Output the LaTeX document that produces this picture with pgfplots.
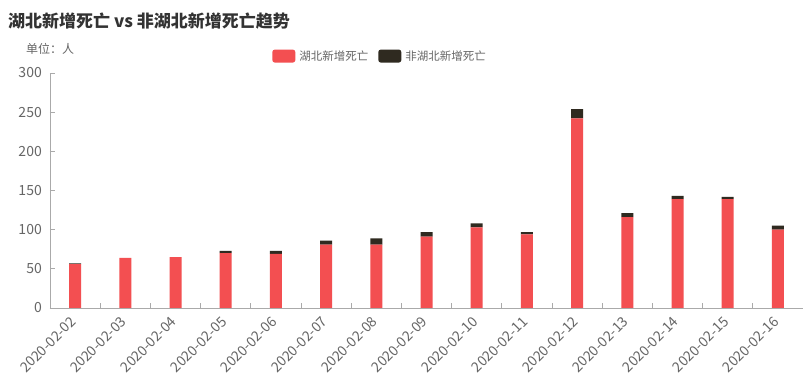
\documentclass[border=0pt]{standalone}
\usepackage{fontspec}
\setmainfont{Noto Sans CJK SC}
\usepackage{pgfplots}
\pgfplotsset{compat=1.18}
\definecolor{hb}{HTML}{F34F51}
\definecolor{nhb}{HTML}{2F2A20}
\definecolor{txt}{HTML}{666666}
\definecolor{ttl}{HTML}{333333}
\definecolor{axc}{HTML}{AAAAAA}
\begin{document}
\begin{tikzpicture}[x=1pt,y=1pt]
\path[use as bounding box, fill=white] (0,0) rectangle (808,390);
\node[anchor=west, font=\fontsize{17}{19}\selectfont\bfseries, text=ttl, inner sep=0pt] at (8,369) {湖北新增死亡 vs 非湖北新增死亡趋势};
\node[font=\fontsize{12}{14}\selectfont, text=txt, inner sep=0pt] at (50,341) {单位：人};
\begin{axis}[
  at={(50pt,82pt)}, anchor=south west,
  scale only axis, width=753pt, height=235pt,
  ybar stacked, bar width=12pt,
  xmin=-0.5, xmax=14.5, ymin=0, ymax=300,
  ytick={0,50,...,300},
  xtick={0.5,1.5,...,13.5}, xticklabels={},
  extra x ticks={0,...,14},
  extra x tick labels={2020-02-02,2020-02-03,2020-02-04,2020-02-05,2020-02-06,2020-02-07,2020-02-08,2020-02-09,2020-02-10,2020-02-11,2020-02-12,2020-02-13,2020-02-14,2020-02-15,2020-02-16},
  extra x tick style={major tick length=0pt, grid=none},
  axis x line*=bottom, axis y line*=left,
  axis line style={draw=axc, line width=0.8pt},
  tick align=inside, major tick length=5pt,
  tick style={draw=axc, line width=0.8pt},
  /pgf/number format/assume math mode=true,
  yticklabel style={font=\fontsize{14}{14}\selectfont, text=txt, inner sep=0pt, xshift=-8pt},
  xticklabel style={font=\fontsize{14}{14}\selectfont, text=txt, inner sep=0pt, yshift=-11pt, xshift=-1.5pt, rotate=45, anchor=east},
  legend style={at={(0.291,1.072)}, anchor=west, draw=none, fill=none,
    font=\fontsize{11.5}{14}\selectfont, text=txt,
    /tikz/every odd column/.append style={column sep=2pt},
    /tikz/every even column/.append style={column sep=8pt}},
  legend columns=2, legend cell align=left,
]
\addplot+[fill=hb, draw=none,
  legend image code/.code={\fill[hb,rounded corners=2.5pt] (0pt,-6.5pt) rectangle (23pt,6.5pt);}]
  coordinates {(0,56) (1,64) (2,65) (3,70) (4,69) (5,81) (6,81) (7,91) (8,103) (9,94) (10,242) (11,116) (12,139) (13,139) (14,100)};
\addplot+[fill=nhb, draw=none,
  legend image code/.code={\fill[nhb,rounded corners=2.5pt] (0pt,-6.5pt) rectangle (23pt,6.5pt);}]
  coordinates {(0,1) (1,0) (2,0) (3,3) (4,4) (5,5) (6,8) (7,6) (8,5) (9,3) (10,12) (11,5) (12,4) (13,3) (14,5)};
\legend{湖北新增死亡,非湖北新增死亡}
\end{axis}
\end{tikzpicture}
\end{document}
